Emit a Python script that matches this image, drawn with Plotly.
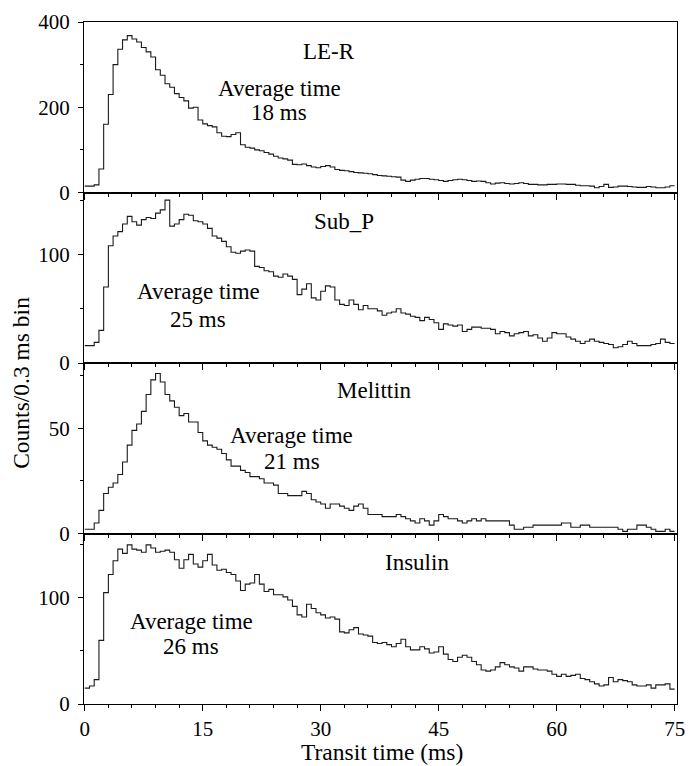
import numpy as np
import plotly.graph_objects as go
from plotly.subplots import make_subplots

BIN_MS = 0.6
x_min, x_max = 0.0, 75.0

le_r = [15, 15, 18, 55, 160, 230, 300, 336, 358, 368, 360, 353, 340, 330, 318, 288, 275, 255, 247, 232,
        223, 215, 198, 200, 170, 161, 157, 154, 140, 132, 131, 136, 140, 112, 106, 104, 100, 98, 94, 90,
        85, 81, 79, 76, 66, 65, 67, 63, 60, 58, 61, 63, 60, 54, 52, 51, 49, 47, 46, 45,
        44, 42, 40, 39, 38, 37, 36, 29, 26, 29, 31, 33, 33, 31, 30, 28, 26, 28, 30, 31,
        30, 28, 26, 27, 26, 23, 20, 22, 23, 21, 20, 21, 23, 21, 19, 19, 18, 18, 19, 19,
        20, 20, 19, 19, 17, 16, 16, 15, 11, 14, 19, 12, 13, 15, 15, 14, 13, 12, 12, 14,
        13, 11, 11, 13, 16]

sub_p = [16, 16, 19, 30, 70, 108, 117, 121, 128, 135, 130, 127, 132, 134, 133, 138, 141, 150, 126, 128,
         132, 137, 136, 131, 130, 128, 124, 117, 115, 112, 107, 102, 101, 103, 104, 103, 89, 88, 85, 84,
         80, 79, 82, 80, 77, 63, 68, 73, 60, 58, 66, 71, 70, 58, 54, 53, 58, 54, 49, 53,
         50, 50, 48, 44, 46, 47, 50, 46, 45, 43, 42, 39, 42, 40, 37, 31, 36, 35, 34, 35,
         29, 31, 33, 33, 32, 32, 31, 27, 29, 28, 25, 27, 28, 29, 25, 26, 23, 20, 23, 28,
         27, 27, 24, 22, 20, 18, 20, 22, 20, 19, 18, 17, 14, 15, 17, 20, 18, 16, 16, 16,
         17, 18, 22, 19, 18]

melittin = [2, 2, 5, 11, 19, 22, 24, 28, 34, 42, 49, 52, 58, 66, 73, 76, 72, 66, 63, 60,
            56, 57, 53, 53, 48, 44, 42, 41, 40, 38, 35, 32, 32, 30, 29, 27, 27, 26, 24, 24,
            23, 19, 19, 18, 18, 18, 20, 19, 16, 15, 14, 12, 14, 14, 13, 12, 11, 13, 14, 12,
            9, 9, 9, 8, 8, 8, 9, 8, 7, 6, 5, 7, 6, 4, 6, 9, 8, 7, 7, 6,
            5, 6, 7, 6, 7, 6, 6, 6, 6, 6, 4, 2, 2, 3, 3, 4, 4, 4, 4, 4,
            4, 5, 5, 3, 3, 4, 4, 3, 3, 3, 3, 3, 3, 2, 1, 2, 2, 4, 4, 3,
            2, 1, 1, 2, 1]

insulin = [15, 17, 23, 60, 105, 122, 135, 146, 142, 150, 146, 145, 143, 150, 147, 143, 144, 145, 143, 136,
           128, 136, 141, 132, 129, 135, 141, 131, 126, 127, 124, 122, 116, 107, 113, 114, 122, 113, 106, 108,
           103, 103, 101, 98, 92, 84, 82, 94, 90, 86, 84, 81, 82, 80, 68, 67, 70, 72, 66, 65,
           64, 58, 57, 58, 56, 54, 57, 61, 54, 51, 51, 54, 52, 48, 49, 54, 47, 42, 40, 44,
           46, 44, 40, 37, 32, 31, 32, 35, 39, 37, 35, 34, 31, 35, 35, 33, 32, 32, 31, 28,
           26, 28, 26, 27, 28, 24, 23, 21, 19, 17, 18, 25, 21, 23, 22, 21, 18, 17, 17, 18,
           15, 18, 18, 19, 14]

panels = [
    dict(name="LE-R", y=le_r, yrange=[0, 400], dtick=200, minor=100,
         label_xy=(31.0, 330), avg_xy=(24.7, 245), ms_xy=(24.7, 187), avg="18 ms"),
    dict(name="Sub_P", y=sub_p, yrange=[0, 157], dtick=100, minor=50,
         label_xy=(32.9, 130.5), avg_xy=(14.4, 65.8), ms_xy=(14.4, 40), avg="25 ms"),
    dict(name="Melittin", y=melittin, yrange=[0, 81], dtick=50, minor=25,
         label_xy=(36.8, 68.1), avg_xy=(26.3, 46.4), ms_xy=(26.3, 34), avg="21 ms"),
    dict(name="Insulin", y=insulin, yrange=[0, 160.7], dtick=100, minor=50,
         label_xy=(42.3, 133.3), avg_xy=(13.55, 77.6), ms_xy=(13.55, 54), avg="26 ms"),
]

FONT = "Liberation Serif, Times New Roman, serif"

fig = make_subplots(rows=4, cols=1, shared_xaxes=True, vertical_spacing=0)

for i, p in enumerate(panels, start=1):
    vals = list(p["y"])
    edges = x_min + BIN_MS * np.arange(len(vals) + 1)
    xs = list(edges)
    ys = vals + [vals[-1]]
    fig.add_trace(go.Scatter(x=xs, y=ys, mode="lines", line=dict(shape="hv", color="#1a1a1a", width=1.1),
                             showlegend=False, hoverinfo="skip"), row=i, col=1)
    fig.update_yaxes(range=p["yrange"], dtick=p["dtick"], tick0=0, row=i, col=1,
                     showline=True, mirror=True, linecolor="black", linewidth=1,
                     ticks="outside", ticklen=5, tickwidth=1, tickcolor="black",
                     minor=dict(dtick=p["minor"], tick0=0, ticks="outside", ticklen=3, tickwidth=1, tickcolor="black"),
                     showgrid=False, zeroline=False,
                     tickfont=dict(family=FONT, size=21, color="black"), ticklabelstandoff=4)
    fig.update_xaxes(range=[-0.1, 75.3], dtick=15, tick0=0, row=i, col=1,
                     showline=True, mirror=True, linecolor="black", linewidth=1,
                     ticks="outside", ticklen=6, tickwidth=1, tickcolor="black",
                     minor=dict(dtick=3, tick0=0, ticks="outside", ticklen=3, tickwidth=1, tickcolor="black"),
                     showgrid=False, zeroline=False, showticklabels=(i == 4),
                     tickfont=dict(family=FONT, size=21, color="black"))
    xref = "x" if i == 1 else f"x{i}"
    yref = "y" if i == 1 else f"y{i}"
    for txt, (ax_, ay_) in [(p["name"], p["label_xy"]), ("Average time", p["avg_xy"]), (p["avg"], p["ms_xy"])]:
        fig.add_annotation(x=ax_, y=ay_, xref=xref, yref=yref, text=txt, showarrow=False,
                           font=dict(family=FONT, size=23, color="black"), xanchor="center", yanchor="middle")

fig.add_annotation(x=-0.1065, y=0.4707, xref="paper", yref="paper", text="Counts/0.3 ms bin",
                   textangle=-90, showarrow=False, font=dict(family=FONT, size=23.5, color="black"),
                   xanchor="center", yanchor="middle")
fig.add_annotation(x=0.503, y=-0.0704, xref="paper", yref="paper", text="Transit time (ms)",
                   showarrow=False, font=dict(family=FONT, size=23.5, color="black"),
                   xanchor="center", yanchor="middle")

fig.update_layout(width=695, height=766, margin=dict(l=84, r=10, t=22, b=62),
                  paper_bgcolor="white", plot_bgcolor="white", showlegend=False)

fig.write_html("out.html")
